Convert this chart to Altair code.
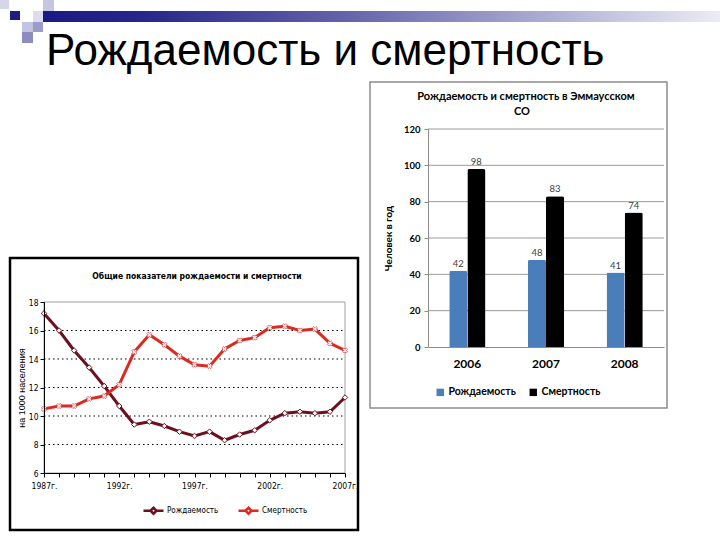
import altair as alt
import pandas as pd

# ---------------- data ----------------
years = list(range(1987, 2008))
label_years = [1987, 1992, 1997, 2002, 2007]
births = [17.2, 16.0, 14.6, 13.4, 12.1, 10.7, 9.4, 9.6, 9.3, 8.9, 8.6,
          8.9, 8.3, 8.7, 9.0, 9.7, 10.2, 10.3, 10.2, 10.3, 11.3]
deaths = [10.5, 10.7, 10.7, 11.2, 11.4, 12.2, 14.5, 15.7, 15.0, 14.2, 13.6,
          13.5, 14.7, 15.3, 15.5, 16.2, 16.3, 16.0, 16.1, 15.1, 14.6]
line_ticks = [6, 8, 10, 12, 14, 16, 18]
line_grid = [8, 10, 12, 14, 16]
series_names = ["Рождаемость", "Смертность"]

bar_years = ["2006", "2007", "2008"]
bar_births = [42, 48, 41]
bar_deaths = [98, 83, 74]
bar_ticks = [0, 20, 40, 60, 80, 100, 120]

slide_title = "Рождаемость и смертность"
line_title = "Общие показатели рождаемости и смертности"
line_y_title = "на 1000 населения"
bar_title_lines = ["Рождаемость и смертность в Эммаусском", "СО"]
bar_y_title = "Человек в год"

NARROW = "Liberation Sans Narrow, DejaVu Sans Condensed, sans-serif"
ARIAL = "Liberation Sans, Arial, sans-serif"
CALIBRI = "Lato, Open Sans, sans-serif"

one = alt.Data(values=[{}])


def box(x, y, x2, y2, **mk):
    return alt.Chart(one).mark_rect(**mk).encode(
        x=alt.value(x), x2=alt.value(x2), y=alt.value(y), y2=alt.value(y2))


def label(txt, x, y, **mk):
    return alt.Chart(one).mark_text(text=txt, **mk).encode(
        x=alt.value(x), y=alt.value(y))


# ---------------- left panel: header + line chart ----------------
band = box(43, 11, 720, 22, fill=alt.LinearGradient(
    gradient="linear", x1=0, x2=1, y1=0, y2=0,
    stops=[alt.GradientStop(offset=0, color="#1a1a85"),
           alt.GradientStop(offset=0.15, color="#26268c"),
           alt.GradientStop(offset=0.45, color="#6464aa"),
           alt.GradientStop(offset=0.75, color="#aeaed4"),
           alt.GradientStop(offset=1, color="#ececf5")]))
squares = [
    box(0, 0, 9, 9, color="#d6d6ea"),
    box(10, 11, 20, 20, color="#1e1e82"),
    box(33, 11, 43, 22, color="#dcdcee"),
    box(43, 0, 54, 11, color="#c6c6e0"),
    box(22, 22, 33, 32, color="#c4c4e0"),
    box(33, 22, 43, 32, color="#9c9cca"),
    box(22, 32, 33, 43, color="#8c8cc0"),
]
title_txt = label(slide_title, 46, 65, font=ARIAL, fontSize=44,
                  align="left", baseline="alphabetic", color="black")

df_line = pd.DataFrame({
    "year": years + years,
    "value": births + deaths,
    "series": [series_names[0]] * len(years) + [series_names[1]] * len(years),
})

lx_scale = alt.Scale(domain=[years[0], years[-1]], range=[44, 345], nice=False, zero=False)
ly_scale = alt.Scale(domain=[line_ticks[0], line_ticks[-1]], range=[473, 302], nice=False, zero=False)

lx_axis = alt.Axis(
    orient="bottom", offset=-67, values=years, grid=False, title="",
    labelExpr="indexof(" + str(label_years) + ", datum.value) >= 0 ? datum.value + 'г.' : ''",
    domainColor="black", tickColor="black", tickSize=4, labelPadding=4,
    labelFont=NARROW, labelFontSize=8.5, labelColor="black",
    labelFlush=False, labelOverlap=False, labelBound=False, zindex=1)
ly_axis = alt.Axis(
    orient="left", offset=-44, values=line_ticks, grid=False,
    domainColor="black", tickColor="black", tickSize=4, labelPadding=2,
    labelFont=NARROW, labelFontSize=8.5, labelColor="black", labelFlush=False,
    title=line_y_title, titleFont=ARIAL, titleFontSize=9, titleFontWeight="normal",
    titleColor="black", titlePadding=2, zindex=1)

line_frame = box(10, 258, 358, 530, fillOpacity=0, stroke="black", strokeWidth=2.5)
line_title_txt = label(line_title, 197, 276, font=NARROW, fontSize=8.5,
                       fontWeight="bold", align="center", baseline="middle", color="black")

plot_border = alt.Chart(one).mark_rect(fillOpacity=0, stroke="#a0a0a0", strokeWidth=1).encode(
    x=alt.X(datum=years[0], type="quantitative", scale=lx_scale, axis=lx_axis),
    x2=alt.X2(datum=years[-1]),
    y=alt.Y(datum=line_ticks[0], type="quantitative", scale=ly_scale, axis=ly_axis),
    y2=alt.Y2(datum=line_ticks[-1]))

grid_rules = alt.Chart(pd.DataFrame({"value": line_grid})).mark_rule(
    color="black", strokeWidth=1, strokeDash=[1.5, 3]).encode(
    y=alt.Y("value:Q", scale=ly_scale, axis=ly_axis),
    x=alt.X(datum=years[0], type="quantitative", scale=lx_scale, axis=lx_axis),
    x2=alt.X2(datum=years[-1]))

line_color = alt.Color(
    "series:N",
    scale=alt.Scale(domain=series_names, range=["#6e0f1e", "#dc2a20"]),
    legend=alt.Legend(
        orient="none", legendX=142, legendY=499, direction="horizontal", title=None,
        symbolType="M-1,0L-0.3,0M0.3,0L1,0M-0.3,0L0,-0.3L0.3,0L0,0.3Z",
        symbolSize=400, symbolStrokeWidth=2.5, symbolFillColor="white",
        labelFont=NARROW, labelFontSize=8, labelFontWeight="normal", labelColor="black",
        columnPadding=14, labelOffset=2, padding=0))

lines = alt.Chart(df_line).mark_line(strokeWidth=3).encode(
    x=alt.X("year:Q", scale=lx_scale, axis=lx_axis),
    y=alt.Y("value:Q", scale=ly_scale, axis=ly_axis),
    color=line_color,
    detail="series:N")

pts_b = alt.Chart(df_line).transform_filter(
    alt.datum.series == series_names[0]).mark_point(
    shape="diamond", filled=True, fill="white", stroke="#6e0f1e",
    strokeWidth=1, size=30, opacity=1).encode(
    x=alt.X("year:Q", scale=lx_scale, axis=lx_axis),
    y=alt.Y("value:Q", scale=ly_scale, axis=ly_axis))

pts_d = alt.Chart(df_line).transform_filter(
    alt.datum.series == series_names[1]).mark_point(
    shape="cross", angle=45, filled=True, fill="#fde6e6", stroke="#c8181c",
    strokeWidth=0.5, size=28, opacity=1).encode(
    x=alt.X("year:Q", scale=lx_scale, axis=lx_axis),
    y=alt.Y("value:Q", scale=ly_scale, axis=ly_axis))

left = alt.layer(
    band, *squares, title_txt, line_frame, line_title_txt,
    plot_border, grid_rules, lines, pts_b, pts_d
).properties(width=365, height=540)

# ---------------- right panel: bar chart ----------------
df_bar = pd.DataFrame({
    "year": bar_years + bar_years,
    "value": bar_births + bar_deaths,
    "series": [series_names[0]] * len(bar_years) + [series_names[1]] * len(bar_years),
})

bx_scale = alt.Scale(domain=bar_years, range=[63, 299], paddingInner=0.54, paddingOuter=0.27)
by_scale = alt.Scale(domain=[bar_ticks[0], bar_ticks[-1]], range=[347, 129], nice=False)
bo_scale = alt.Scale(domain=series_names)

bx_axis = alt.Axis(
    orient="bottom", offset=-193, ticks=False, domainColor="#8c8c8c", title="",
    labelAngle=0, labelFont=CALIBRI, labelFontWeight="bold", labelFontSize=12,
    labelColor="black", labelPadding=11, zindex=1)
by_axis = alt.Axis(
    orient="left", offset=-63, values=bar_ticks, grid=False,
    domainColor="#8c8c8c", tickColor="#8c8c8c", tickSize=4, labelPadding=4,
    labelFont=CALIBRI, labelFontWeight="bold", labelFontSize=9.5, labelColor="black",
    labelFlush=False, title=bar_y_title, titleFont=CALIBRI, titleFontSize=10,
    titleFontWeight="bold", titleColor="black", titlePadding=10, zindex=1)

bar_frame = box(5, 82, 302, 408, fillOpacity=0, stroke="#8c8c8c", strokeWidth=1.5)
bar_title1 = label(bar_title_lines[0], 161, 97, font=CALIBRI, fontSize=11,
                   fontWeight="bold", align="center", baseline="middle", color="black")
bar_title2 = label(bar_title_lines[1], 157, 112, font=CALIBRI, fontSize=11,
                   fontWeight="bold", align="center", baseline="middle", color="black")

bar_grid = alt.Chart(pd.DataFrame({"value": bar_ticks[1:]})).mark_rule(
    color="#9a9a9a", strokeWidth=1).encode(
    y=alt.Y("value:Q", scale=by_scale, axis=by_axis),
    x=alt.value(63), x2=alt.value(299))

bars = alt.Chart(df_bar).mark_bar(cornerRadiusTopLeft=2, cornerRadiusTopRight=2).encode(
    x=alt.X("year:N", scale=bx_scale, axis=bx_axis),
    xOffset=alt.XOffset("series:N", scale=bo_scale),
    y=alt.Y("value:Q", scale=by_scale, axis=by_axis),
    color=alt.Color(
        "series:N",
        scale=alt.Scale(domain=series_names, range=["#4a7ebb", "#000000"]),
        legend=alt.Legend(
            orient="none", legendX=70, legendY=387, direction="horizontal", title=None,
            symbolType="square", symbolSize=55, symbolStrokeWidth=0,
            labelFont=CALIBRI, labelFontWeight="bold", labelFontSize=10.5,
            labelColor="black", columnPadding=12, labelOffset=3, padding=0)))

bar_labels = alt.Chart(df_bar).mark_text(
    dy=-7, fontSize=9.5, color="#404040", font=CALIBRI).encode(
    x=alt.X("year:N", scale=bx_scale, axis=bx_axis),
    xOffset=alt.XOffset("series:N", scale=bo_scale),
    y=alt.Y("value:Q", scale=by_scale, axis=by_axis),
    text="value:Q")

right = alt.layer(
    bar_frame, bar_title1, bar_title2, bar_grid, bars, bar_labels
).properties(width=355, height=540)

chart = alt.hconcat(left, right, spacing=0).resolve_scale(
    color="independent").resolve_legend(color="independent").properties(
    bounds="flush", padding=0, background="white"
).configure_view(strokeWidth=0)

chart.save("out.html", embed_options={"renderer": "svg", "actions": False})
